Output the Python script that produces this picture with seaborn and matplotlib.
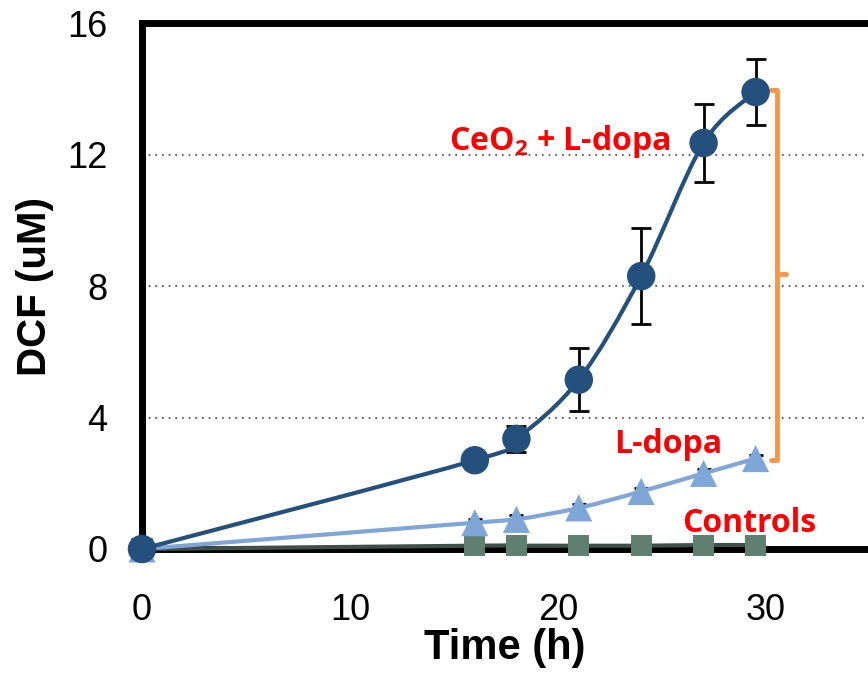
import numpy as np
import pandas as pd
import matplotlib
matplotlib.use("Agg")
import matplotlib.pyplot as plt
from matplotlib.path import Path
from matplotlib.patches import PathPatch
import seaborn as sns

# ---- data ----
time_h = [0, 16, 18, 21, 24, 27, 29.5]
ceo2_ldopa = [0, 2.7, 3.35, 5.15, 8.3, 12.35, 13.9]
ceo2_ldopa_err = [0, 0, 0.4, 0.95, 1.45, 1.2, 1.0]
ldopa = [0, 0.8, 0.9, 1.25, 1.75, 2.3, 2.75]
ldopa_err = [0, 0.12, 0.12, 0.12, 0.12, 0.12, 0.12]
controls = [0, 0.1, 0.1, 0.1, 0.1, 0.12, 0.12]

x_ticks = [0, 10, 20, 30]
y_ticks = [0, 4, 8, 12, 16]
labels = [r"CeO$_\mathbf{2}$ + L-dopa", "L-dopa", "Controls"]

sns.set_theme(style="white")
plt.rcParams["font.family"] = ["Liberation Sans", "DejaVu Sans"]
plt.rcParams["mathtext.fontset"] = "custom"
plt.rcParams["mathtext.bf"] = "Open Sans:bold"
plt.rcParams["mathtext.rm"] = "Open Sans"

fig = plt.figure(figsize=(8.68, 6.78), dpi=100)
ax = fig.add_axes([142/868, 1-549/678, 1-142/868, (549-23)/678])

c_dark = "#24507e"
c_light = "#7ea6d8"
c_ctrl = "#5f7f70"


def smooth_path(xs, ys, t=1/6):
    xs = np.asarray(xs, float); ys = np.asarray(ys, float)
    pts = np.column_stack([xs, ys])
    verts = [pts[0]]; codes = [Path.MOVETO]
    n = len(pts)
    for i in range(n - 1):
        p0 = pts[i - 1] if i > 0 else pts[i]
        p1 = pts[i]; p2 = pts[i + 1]
        p3 = pts[i + 2] if i + 2 < n else pts[i + 1]
        c1 = p1 + (p2 - p0) * t
        c2 = p2 - (p3 - p1) * t
        verts += [c1, c2, p2]; codes += [Path.CURVE4] * 3
    return Path(verts, codes)


df = pd.DataFrame({"t": time_h, "a": ceo2_ldopa, "b": ldopa, "c": controls})

# lines (smoothed like the source)
for col, color, lw in [("c", "#3f4f4a", 3), ("b", c_light, 3), ("a", c_dark, 3)]:
    ax.add_patch(PathPatch(smooth_path(df["t"], df[col]), facecolor="none",
                           edgecolor=color, lw=lw, zorder=3, clip_on=False))

# error bars
ax.errorbar(time_h, ceo2_ldopa, yerr=ceo2_ldopa_err, fmt="none", ecolor="black",
            elinewidth=2, capsize=7, capthick=2, zorder=2)
ax.errorbar(time_h, ldopa, yerr=ldopa_err, fmt="none", ecolor="black",
            elinewidth=2, capsize=5, capthick=2, zorder=2)

# markers via seaborn
sns.scatterplot(data=df, x="t", y="c", marker="s", s=230, color=c_ctrl,
                edgecolor="none", ax=ax, zorder=4, clip_on=False)
sns.scatterplot(data=df, x="t", y="b", marker="^", s=380, color=c_light,
                edgecolor="none", ax=ax, zorder=5, clip_on=False)
sns.scatterplot(data=df, x="t", y="a", marker="o", s=420, color=c_dark,
                edgecolor="none", ax=ax, zorder=6, clip_on=False)

ax.set_xlim(0, (868-142)/20.8)
ax.set_ylim(0, 16)
ax.set_xticks(x_ticks)
ax.set_yticks(y_ticks)
ax.tick_params(axis="both", labelsize=26, colors="black", direction="out",
               length=8, width=1.5)
ax.tick_params(axis="y", pad=17)
ax.tick_params(axis="x", pad=24)
ax.set_xlabel("Time (h)", fontsize=30, fontweight="bold", labelpad=0, color="black")
ax.set_ylabel("DCF (uM)", fontsize=29, fontweight="bold", labelpad=9, color="black")

for yv in [4, 8, 12]:
    ax.axhline(yv, color="#444444", lw=1.2, ls=(0, (1, 3)), zorder=1)

for s in ["left", "bottom", "top"]:
    ax.spines[s].set_color("black")
    ax.spines[s].set_linewidth(5)
ax.spines["right"].set_visible(False)

# orange bracket
xb = 30.55
ax.plot([30.25, xb, xb, 30.25], [13.95, 13.95, 2.7, 2.7], color="#f79646",
        lw=3.5, solid_joinstyle="round", solid_capstyle="round", zorder=3)
ax.plot([xb, 30.95], [8.35, 8.35], color="#f79646", lw=3.5,
        solid_capstyle="round", zorder=3)

# annotations
red = "#ff0000"
for txt, tx, ty in [(labels[0], 20.1, 12.13), (labels[1], 25.3, 2.92),
                    (labels[2], 29.2, 0.52)]:
    ax.text(tx, ty, txt, color=red, fontsize=23, fontweight="bold",
            ha="center", va="baseline", family=["Open Sans", "DejaVu Sans"])

fig.savefig("out.png", dpi=100)
